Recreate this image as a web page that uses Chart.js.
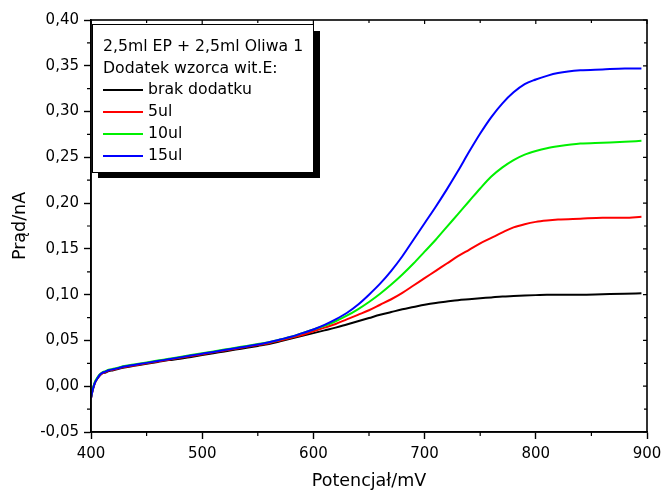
<!DOCTYPE html>
<html>
<head>
<meta charset="utf-8">
<script src="https://cdn.jsdelivr.net/npm/chart.js@4.4.1/dist/chart.umd.min.js"></script>
<style>
  html, body { margin: 0; padding: 0; background: #fff; }
  #wrap { width: 661px; height: 490px; }
</style>
</head>
<body>
<div id="wrap"><canvas id="myChart" width="661" height="490"></canvas></div>
<script>
// Potencjał (mV)
var potencjal = [400,401,402,403,404,406,408,410,413,416,420,425,430,440,450,460,470,480,490,500,
  510,520,530,540,550,560,570,580,590,600,610,620,630,640,650,660,670,680,690,700,
  710,720,730,740,750,760,770,780,790,800,810,820,840,860,880,895];

// Prąd (nA)
var brakDodatku = [-0.013,-0.007,-0.002,0.002,0.005,0.009,0.012,0.014,0.015,0.0165,
  0.0175,0.019,0.0205,0.0225,0.0245,0.0265,0.0285,0.030,0.032,0.034,
  0.036,0.038,0.040,0.042,0.044,
  0.046,0.049,0.052,0.055,0.058,0.061,0.064,0.0675,0.071,0.0745,
  0.078,0.081,0.084,0.0865,0.089,0.091,0.0925,0.094,0.095,0.096,
  0.097,0.098,0.0985,0.099,0.0995,0.100,0.100,0.100,0.1005,0.101,0.1015];
var dodatek5 = [-0.013,-0.007,-0.002,0.002,0.005,0.009,0.012,0.014,0.0155,0.017,
  0.018,0.0195,0.021,0.023,0.025,0.027,0.029,0.031,0.033,0.035,
  0.037,0.039,0.041,0.043,0.045,
  0.047,0.050,0.053,0.056,0.060,0.064,0.068,0.073,0.078,0.083,
  0.089,0.095,0.102,0.110,0.118,0.126,0.134,0.142,0.149,0.156,
  0.162,0.168,0.1735,0.177,0.1795,0.181,0.182,0.183,0.184,0.184,0.185];
var dodatek10 = [-0.012,-0.006,-0.001,0.003,0.006,0.010,0.013,0.015,0.0165,0.018,
  0.019,0.0205,0.022,0.024,0.026,0.028,0.030,0.032,0.034,0.036,
  0.038,0.040,0.042,0.044,0.046,
  0.048,0.051,0.054,0.058,0.062,0.066,0.071,0.077,0.084,0.092,
  0.101,0.111,0.122,0.134,0.147,0.160,0.174,0.188,0.202,0.216,
  0.229,0.239,0.247,0.253,0.257,0.260,0.262,0.265,0.266,0.267,0.268];
var dodatek15 = [-0.013,-0.007,-0.002,0.002,0.005,0.009,0.0125,0.0145,0.016,0.0175,
  0.0185,0.020,0.0215,0.0235,0.0255,0.0275,0.0295,0.0315,0.0335,0.0355,
  0.0375,0.0395,0.0415,0.0435,0.0455,
  0.048,0.051,0.054,0.058,0.062,0.067,0.073,0.080,0.089,0.100,
  0.112,0.126,0.142,0.160,0.178,0.196,0.215,0.235,0.256,0.276,
  0.294,0.309,0.321,0.330,0.335,0.339,0.342,0.345,0.346,0.347,0.347];

var seriesLabels = ['brak dodatku', '5ul', '10ul', '15ul'];
var seriesColors = ['#000000', '#ff0000', '#00f000', '#0000ff'];
var seriesData = [brakDodatku, dodatek5, dodatek10, dodatek15];
var legendTitle = ['2,5ml EP + 2,5ml Oliwa 1', 'Dodatek wzorca wit.E:'];

var xMinor = [450, 550, 650, 750, 850];
var yMinor = [-0.025, 0.025, 0.075, 0.125, 0.175, 0.225, 0.275, 0.325, 0.375];

var FONT = '"DejaVu Sans", sans-serif';

function toPoints(arr) {
  return arr.map(function (v, i) { return {x: potencjal[i], y: v}; });
}

var datasets = seriesData.map(function (d, i) {
  return {
    label: seriesLabels[i],
    data: toPoints(d),
    borderColor: seriesColors[i],
    backgroundColor: seriesColors[i],
    borderWidth: 2,
    pointRadius: 0,
    cubicInterpolationMode: 'monotone',
    order: 3 - i
  };
});

// frame, minor ticks and legend box in Origin style
var framePlugin = {
  id: 'frame',
  beforeDraw: function (chart) {
    var c = chart.ctx;
    c.save();
    c.fillStyle = '#fff';
    c.fillRect(0, 0, chart.width, chart.height);
    c.restore();
  },
  afterDraw: function (chart) {
    var c = chart.ctx, a = chart.chartArea;
    var xs = chart.scales.x, ys = chart.scales.y;
    c.save();
    c.strokeStyle = '#000';
    c.lineWidth = 1.6;
    c.strokeRect(a.left, a.top, a.right - a.left, a.bottom - a.top);
    c.lineWidth = 1.2;
    c.beginPath();
    xMinor.forEach(function (v) {
      var px = xs.getPixelForValue(v);
      c.moveTo(px, a.bottom); c.lineTo(px, a.bottom + 4);
      c.moveTo(px, a.top); c.lineTo(px, a.top + 3);
    });
    xs.ticks.forEach(function (t) {
      var px = xs.getPixelForValue(t.value);
      c.moveTo(px, a.top); c.lineTo(px, a.top + 4);
    });
    yMinor.forEach(function (v) {
      var py = ys.getPixelForValue(v);
      c.moveTo(a.left, py); c.lineTo(a.left - 4, py);
      c.moveTo(a.right, py); c.lineTo(a.right - 3, py);
    });
    ys.ticks.forEach(function (t) {
      var py = ys.getPixelForValue(t.value);
      c.moveTo(a.right, py); c.lineTo(a.right - 4, py);
    });
    c.stroke();

    // legend box with shadow
    var bx = 92, by = 24, bw = 221, bh = 148;
    c.fillStyle = '#000';
    c.fillRect(bx + 6, by + 7, bw + 1, bh - 1);
    c.fillStyle = '#fff';
    c.fillRect(bx, by, bw, bh);
    c.lineWidth = 1;
    c.strokeStyle = '#000';
    c.strokeRect(bx + 0.5, by + 0.5, bw, bh);
    c.font = '15.7px ' + FONT;
    c.textBaseline = 'middle';
    c.textAlign = 'left';
    c.fillStyle = '#000';
    legendTitle.forEach(function (t, i) {
      c.fillText(t, 103, 47 + i * 21.5);
    });
    seriesLabels.forEach(function (t, i) {
      var y = 90 + i * 22;
      c.strokeStyle = seriesColors[i];
      c.lineWidth = 2;
      c.beginPath();
      c.moveTo(103, y); c.lineTo(143, y);
      c.stroke();
      c.fillStyle = '#000';
      c.fillText(t, 148, y);
    });
    c.restore();
  }
};

var ctx = document.getElementById('myChart').getContext('2d');
var myChart = new Chart(ctx, {
  type: 'line',
  data: { datasets: datasets },
  options: {
    responsive: false,
    animation: false,
    layout: { padding: { left: 0, top: 20, right: 14, bottom: 0 } },
    plugins: {
      legend: { display: false },
      tooltip: { enabled: false }
    },
    scales: {
      x: {
        type: 'linear',
        min: 400,
        max: 900,
        afterFit: function (s) { s.height = 58; s.paddingLeft = 0; s.paddingRight = 0; },
        ticks: {
          stepSize: 100,
          padding: 6,
          color: '#000',
          font: { family: FONT, size: 15 },
          maxRotation: 0
        },
        grid: { drawOnChartArea: false, drawTicks: true, tickLength: 7, tickColor: '#000', tickWidth: 1.4 },
        border: { display: true, color: '#000', width: 1.6 },
        title: {
          display: true,
          text: 'Potencjał/mV',
          color: '#000',
          font: { family: FONT, size: 17.5 },
          padding: { top: 0, bottom: -2 }
        }
      },
      y: {
        type: 'linear',
        min: -0.05,
        max: 0.40,
        afterFit: function (s) { s.width = 91; s.paddingTop = 0; s.paddingBottom = 0; },
        ticks: {
          stepSize: 0.05,
          padding: 5,
          color: '#000',
          font: { family: FONT, size: 15 },
          callback: function (v) {
            if (Math.abs(v) < 1e-9) v = 0;
            return v.toFixed(2).replace('.', ',');
          }
        },
        grid: { drawOnChartArea: false, drawTicks: true, tickLength: 7, tickColor: '#000', tickWidth: 1.4 },
        border: { display: true, color: '#000', width: 1.6 },
        title: {
          display: true,
          text: 'Prąd/nA',
          color: '#000',
          font: { family: FONT, size: 17.5 },
          padding: { top: 10, bottom: 0 }
        }
      }
    }
  },
  plugins: [framePlugin]
});
</script>
</body>
</html>
